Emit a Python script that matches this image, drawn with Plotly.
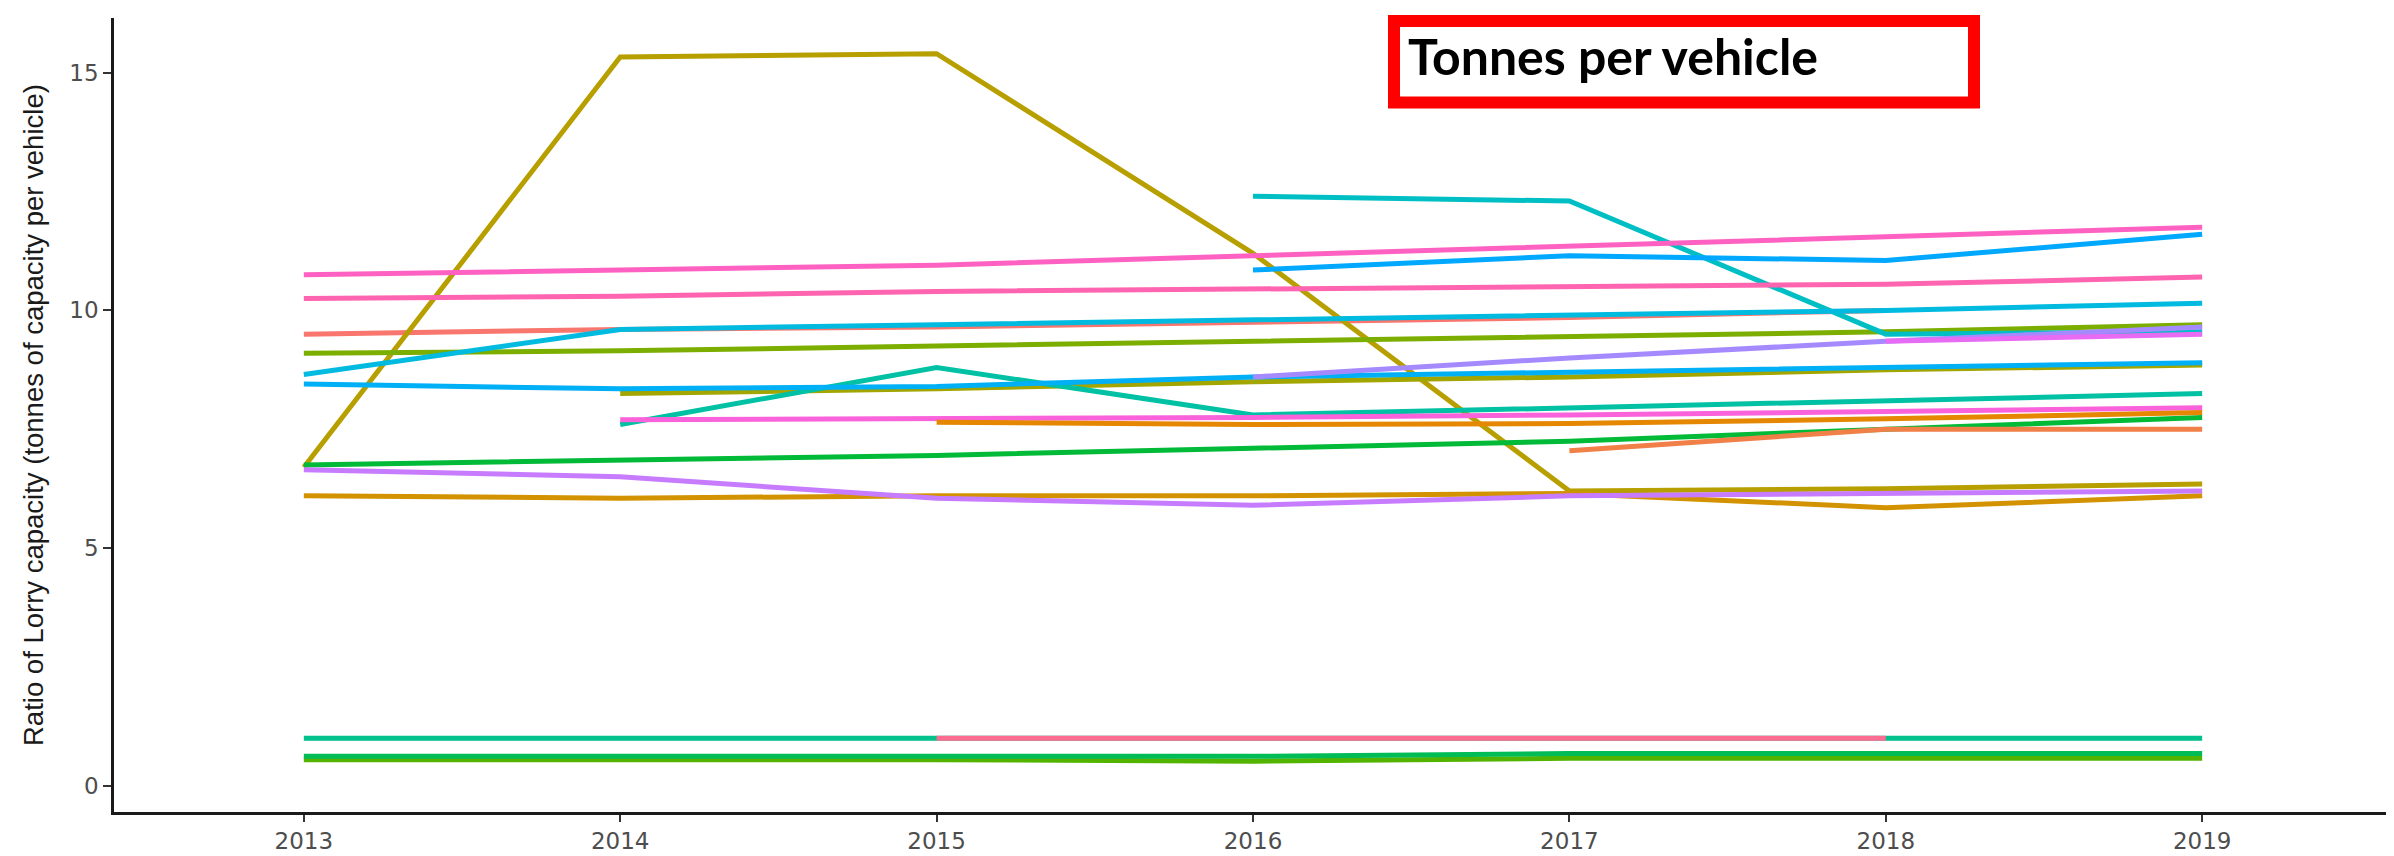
import plotly.graph_objects as go

years = [2013, 2014, 2015, 2016, 2017, 2018, 2019]
y_ticks = [0, 5, 10, 15]
y_title = "Ratio of Lorry capacity (tonnes of capacity per vehicle)"
box_title = "Tonnes per vehicle"

# Each series: values for 2013..2019 (None = no data), drawn in order (later on top)
s_salmon     = [9.5, 9.6, 9.65, 9.75, 9.85, 10.0, None]
s_gold       = [6.7, 15.33, 15.4, 11.2, 6.2, 6.25, 6.35]
s_ochre      = [6.1, 6.05, 6.1, 6.1, 6.15, 5.85, 6.1]
s_olive      = [None, 8.25, 8.35, 8.5, 8.6, 8.75, 8.85]
s_olivegreen = [9.1, 9.15, 9.25, 9.35, 9.45, 9.55, 9.7]
s_limegreen  = [0.55, 0.55, 0.55, 0.52, 0.58, 0.58, 0.58]
s_green      = [6.75, 6.85, 6.95, 7.1, 7.25, 7.5, 7.75]
s_green2     = [0.62, 0.62, 0.62, 0.62, 0.68, 0.68, 0.68]
s_seagreen   = [1.0, 1.0, 1.0, 1.0, 1.0, 1.0, 1.0]
s_teal       = [None, 7.6, 8.8, 7.8, 7.95, 8.1, 8.25]
s_cyan       = [None, None, None, 12.4, 12.3, 9.5, 9.55]
s_skyblue    = [8.65, 9.6, 9.7, 9.8, 9.9, 10.0, 10.15]
s_blue       = [8.45, 8.35, 8.4, 8.6, 8.7, 8.8, 8.9]
s_azure      = [None, None, None, 10.85, 11.15, 11.05, 11.6]
s_lavender   = [None, None, None, 8.6, 9.0, 9.35, 9.65]
s_purple     = [6.65, 6.5, 6.05, 5.9, 6.1, 6.15, 6.2]
s_violet     = [None, None, None, None, None, 9.35, 9.5]
s_magenta    = [None, 7.7, 7.72, 7.75, 7.8, 7.88, 7.95]
s_pink       = [10.75, 10.85, 10.95, 11.15, 11.35, 11.55, 11.75]
s_pink2      = [10.25, 10.3, 10.4, 10.45, 10.5, 10.55, 10.7]
s_rose       = [None, None, 1.0, 1.0, 1.0, 1.0, None]
s_orange     = [None, None, 7.65, 7.6, 7.62, 7.72, 7.85]
s_orange2    = [None, None, None, None, 7.05, 7.5, 7.5]

series = [
    ("#F8766D", s_salmon), ("#B79F00", s_gold), ("#D39200", s_ochre),
    ("#A3A500", s_olive), ("#7CAE00", s_olivegreen), ("#53B400", s_limegreen),
    ("#00BA38", s_green), ("#00BC56", s_green2), ("#00C08B", s_seagreen),
    ("#00C1A3", s_teal), ("#00BFC4", s_cyan), ("#00BAE0", s_skyblue),
    ("#00B0F6", s_blue), ("#00A9FF", s_azure), ("#A58AFF", s_lavender),
    ("#C77CFF", s_purple), ("#E76BF3", s_violet), ("#FA62DB", s_magenta),
    ("#FF61C3", s_pink), ("#FF64B0", s_pink2), ("#FF6C91", s_rose),
    ("#E58700", s_orange), ("#F07F48", s_orange2),
]

fig = go.Figure()
for col, vals in series:
    fig.add_trace(go.Scatter(x=years, y=vals, mode="lines",
                             line=dict(color=col, width=5),
                             connectgaps=False, showlegend=False,
                             hoverinfo="x+y"))

W, H = 2394, 856
L, R, T, B = 106, 10, 10, 38
pw, ph = W - L - R, H - T - B

def px(x):
    return (x - L) / pw

def py(y):
    return (H - B - y) / ph

fig.update_layout(
    width=W, height=H,
    margin=dict(l=L, r=R, t=T, b=B),
    paper_bgcolor="white", plot_bgcolor="white",
    xaxis=dict(range=[2012.4, 2019.6], tickmode="array", tickvals=years,
               ticktext=[str(y) for y in years],
               showgrid=False, zeroline=False,
               showline=True, linecolor="#1a1a1a", linewidth=2.5,
               ticks="outside", ticklen=7, tickwidth=1.5, tickcolor="#333333",
               tickfont=dict(family="DejaVu Sans", size=23, color="#4D4D4D")),
    yaxis=dict(range=[-0.55, 16.15], tickvals=y_ticks,
               showgrid=False, zeroline=False,
               showline=True, linecolor="#1a1a1a", linewidth=2.5,
               ticks="outside", ticklen=8, tickwidth=1.5, tickcolor="#333333",
               tickfont=dict(family="DejaVu Sans", size=23, color="#4D4D4D")),
    shapes=[dict(type="rect", xref="paper", yref="paper",
                 x0=px(1386), x1=px(1966), y0=py(96), y1=py(13),
                 line=dict(color="#FF0000", width=12), fillcolor="white",
                 layer="above")],
    annotations=[
        dict(text="<b>" + box_title + "</b>", xref="paper", yref="paper",
             x=px(1398), y=py(49), xanchor="left", yanchor="middle",
             showarrow=False,
             font=dict(family="Lato", size=50, color="black")),
        dict(text=y_title, xref="paper", yref="paper", textangle=-90,
             x=px(25), y=py(414), xanchor="center", yanchor="middle",
             showarrow=False,
             font=dict(family="Liberation Sans", size=27.5, color="#1a1a1a")),
    ],
)

fig.write_html("out.html")
